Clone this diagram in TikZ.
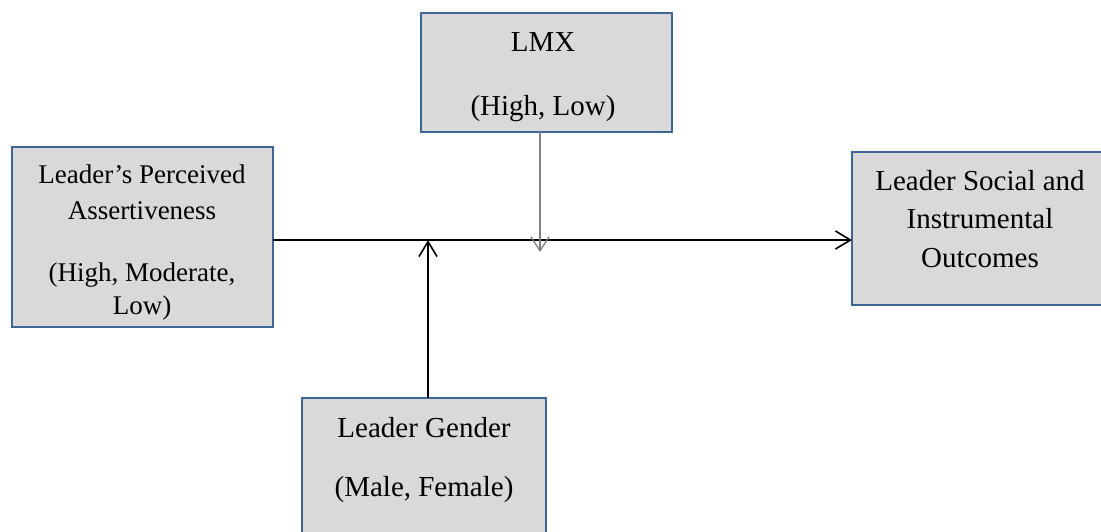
\documentclass[tikz,border=0pt]{standalone}
\usepackage{fontspec}
\setmainfont{Liberation Serif}
\usetikzlibrary{arrows.meta}
\definecolor{boxborder}{HTML}{3F6597}
\definecolor{boxfill}{HTML}{D9D9D9}
\definecolor{grayarrow}{HTML}{808080}
\tikzset{
  varbox/.style={draw=boxborder, fill=boxfill, line width=2.2pt, rectangle, inner sep=0pt, outer sep=0pt},
  lbl/.style={anchor=base, inner sep=0pt, font=\fontsize{29}{36}\selectfont},
  lblsmall/.style={anchor=base, inner sep=0pt, font=\fontsize{27}{34}\selectfont},
  conn/.style={line width=1.6pt, -{Straight Barb[length=15pt,width=18pt,line width=1.6pt]}},
  lmxconn/.style={draw=grayarrow, line width=1.6pt, -{Straight Barb[length=14pt,width=18pt,line width=1.3pt]}}
}
\begin{document}
\begin{tikzpicture}[x=1pt,y=-1pt]
\useasboundingbox (0,0) rectangle (1101,531);
\node[varbox, minimum width=251pt, minimum height=119pt] (lmx) at (546.5,72.5) {};
\node[varbox, minimum width=261pt, minimum height=180pt] (assert) at (142.5,237) {};
\node[varbox, minimum width=252pt, minimum height=153pt] (outcome) at (978,228.5) {};
\node[varbox, minimum width=244pt, minimum height=142pt] (gender) at (424,469) {};

\node[lbl] (lmxa) at (543,51) {LMX};
\node[lbl] (lmxb) at (543,115) {(High, Low)};

\node[lblsmall] (asa) at (142,183) {Leader’s Perceived};
\node[lblsmall] (asb) at (142,219) {Assertiveness};
\node[lblsmall] (asc) at (142,281) {(High, Moderate,};
\node[lblsmall] (asd) at (142,314) {Low)};

\node[lbl] (oua) at (980,190) {Leader Social and};
\node[lbl] (oub) at (980,228) {Instrumental};
\node[lbl] (ouc) at (980,267) {Outcomes};

\node[lbl] (gea) at (424,437) {Leader Gender};
\node[lbl] (geb) at (424,496) {(Male, Female)};

\coordinate (mainy) at (0,240);
\coordinate (gtop) at (428,240);
\coordinate (ltip) at (540,252);

\draw[conn] (assert.east |- mainy) -- (outcome.west |- mainy);
\draw[conn] (gender.north -| gtop) -- (gtop);
\draw[lmxconn] (lmx.south -| ltip) -- (ltip);
\end{tikzpicture}
\end{document}
